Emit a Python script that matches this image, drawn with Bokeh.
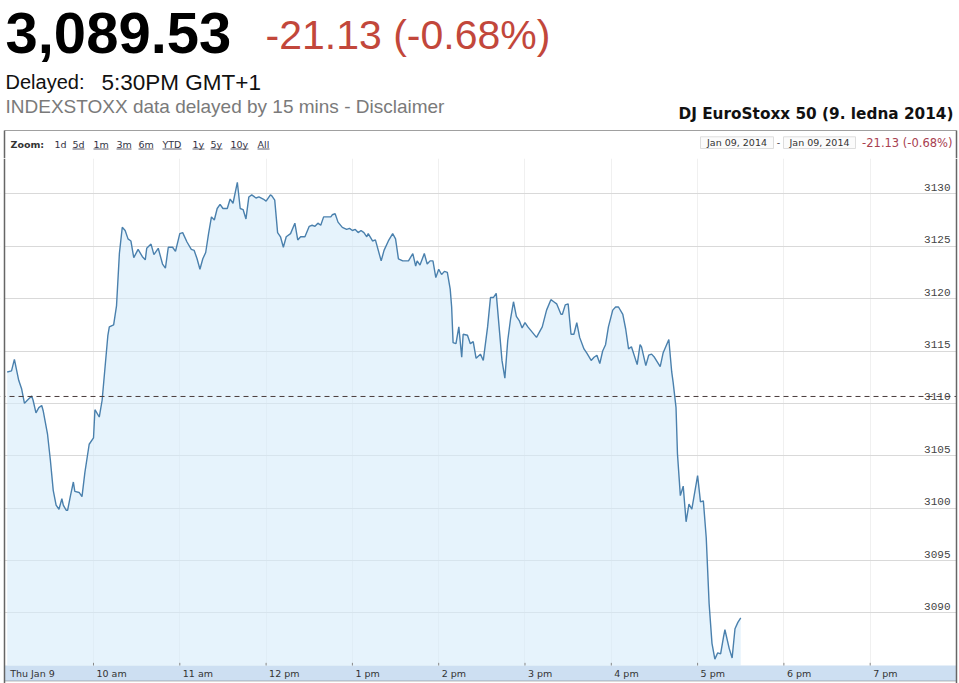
from bokeh.plotting import figure
from bokeh.models import Range1d, FixedTicker, Span, BoxAnnotation, ColumnDataSource, Grid
from bokeh.layouts import column
from bokeh.core.properties import value
from bokeh.embed import file_html
from bokeh.resources import INLINE

# ---------------- data ----------------
times = [
    "09:00", "09:03", "09:05", "09:08", "09:10", "09:12", "09:14", "09:17", "09:18", "09:20",
    "09:22", "09:24", "09:25", "09:28", "09:30", "09:32", "09:34", "09:36", "09:38", "09:39",
    "09:41", "09:42", "09:44", "09:46", "09:47", "09:50", "09:52", "09:54", "09:57", "10:00",
    "10:01", "10:04", "10:06", "10:10", "10:11", "10:14", "10:16", "10:18", "10:20", "10:22",
    "10:24", "10:26", "10:28", "10:31", "10:34", "10:36", "10:37", "10:40", "10:42", "10:45",
    "10:48", "10:50", "10:52", "10:55", "10:57", "11:00", "11:02", "11:05", "11:08", "11:10",
    "11:12", "11:14", "11:16", "11:18", "11:20", "11:22", "11:24", "11:26", "11:28", "11:30",
    "11:33", "11:35", "11:37", "11:40", "11:42", "11:44", "11:46", "11:48", "11:50", "11:53",
    "11:55", "11:58", "12:00", "12:03", "12:04", "12:06", "12:08", "12:10", "12:12", "12:14",
    "12:17", "12:20", "12:22", "12:24", "12:27", "12:30", "12:32", "12:34", "12:36", "12:38",
    "12:40", "12:42", "12:45", "12:46", "12:48", "12:50", "12:53", "12:56", "12:58", "13:00",
    "13:02", "13:04", "13:06", "13:08", "13:10", "13:11", "13:14", "13:16", "13:20", "13:22",
    "13:25", "13:28", "13:30", "13:32", "13:35", "13:37", "13:39", "13:42", "13:44", "13:45",
    "13:47", "13:50", "13:52", "13:54", "13:56", "13:58", "14:00", "14:02", "14:04", "14:06",
    "14:08", "14:09", "14:10", "14:12", "14:14", "14:16", "14:17", "14:20", "14:22", "14:24",
    "14:26", "14:29", "14:31", "14:34", "14:36", "14:38", "14:40", "14:42", "14:44", "14:46",
    "14:48", "14:50", "14:52", "14:54", "14:56", "14:58", "15:00", "15:02", "15:05", "15:08",
    "15:12", "15:15", "15:18", "15:20", "15:22", "15:25", "15:26", "15:28", "15:30", "15:32",
    "15:34", "15:36", "15:38", "15:41", "15:43", "15:46", "15:48", "15:50", "15:52", "15:54",
    "15:56", "15:58", "16:01", "16:03", "16:05", "16:08", "16:10", "16:12", "16:14", "16:18",
    "16:20", "16:21", "16:24", "16:26", "16:28", "16:30", "16:34", "16:36", "16:40", "16:42",
    "16:43", "16:45", "16:46", "16:48", "16:50", "16:52", "16:54", "16:56", "17:00", "17:02",
    "17:04", "17:06", "17:08", "17:10", "17:12", "17:14", "17:16", "17:18", "17:19", "17:22",
    "17:24", "17:26", "17:28", "17:30",
]
values = [
    3113.0, 3113.1, 3114.2, 3112.2, 3111.4, 3110.0, 3110.3, 3110.7, 3110.3, 3109.1,
    3109.6, 3109.8, 3109.3, 3107.1, 3104.6, 3101.7, 3100.3, 3099.9, 3100.9, 3100.3,
    3099.8, 3099.8, 3101.2, 3102.5, 3101.6, 3101.5, 3101.1, 3103.4, 3106.1, 3106.7,
    3109.4, 3108.7, 3110.3, 3116.5, 3117.3, 3117.5, 3119.3, 3124.3, 3126.8, 3126.5,
    3125.7, 3125.5, 3123.9, 3124.7, 3124.0, 3123.7, 3124.8, 3125.2, 3124.2, 3124.8,
    3123.3, 3122.9, 3124.9, 3124.9, 3124.5, 3126.2, 3126.3, 3125.4, 3124.7, 3124.6,
    3123.8, 3122.8, 3123.8, 3124.4, 3126.2, 3127.8, 3127.5, 3128.6, 3129.0, 3128.6,
    3128.6, 3129.5, 3129.1, 3131.1, 3128.6, 3128.5, 3127.6, 3129.7, 3129.9, 3129.6,
    3129.7, 3129.5, 3129.3, 3129.9, 3129.8, 3129.4, 3126.3, 3125.9, 3124.9, 3125.9,
    3126.2, 3127.2, 3125.6, 3125.9, 3125.9, 3126.9, 3127.0, 3126.9, 3127.2, 3127.0,
    3127.8, 3127.8, 3127.8, 3128.0, 3128.1, 3127.3, 3126.8, 3126.6, 3126.7, 3126.5,
    3126.6, 3126.3, 3126.5, 3126.3, 3125.9, 3126.2, 3125.5, 3125.6, 3123.6, 3124.6,
    3125.5, 3126.2, 3125.7, 3123.8, 3123.6, 3123.6, 3123.6, 3124.3, 3123.1, 3123.6,
    3123.2, 3124.3, 3123.3, 3123.6, 3123.6, 3122.0, 3122.8, 3122.3, 3122.6, 3122.5,
    3120.9, 3119.2, 3115.8, 3115.7, 3117.3, 3114.4, 3116.6, 3116.5, 3115.7, 3115.9,
    3114.3, 3114.7, 3114.1, 3117.3, 3120.1, 3120.1, 3120.5, 3117.3, 3114.1, 3112.4,
    3116.0, 3118.1, 3119.7, 3118.3, 3117.9, 3117.2, 3117.7, 3117.3, 3116.8, 3116.3,
    3117.3, 3118.9, 3119.9, 3119.7, 3119.5, 3118.5, 3118.5, 3119.4, 3119.5, 3116.6,
    3116.6, 3117.7, 3116.3, 3115.2, 3114.8, 3114.1, 3114.4, 3114.6, 3113.8, 3115.0,
    3115.6, 3117.3, 3118.9, 3119.2, 3119.2, 3118.5, 3117.1, 3115.2, 3115.4, 3113.7,
    3115.6, 3115.4, 3113.6, 3114.6, 3114.7, 3114.4, 3113.5, 3114.8, 3116.1, 3113.0,
    3112.0, 3109.6, 3105.2, 3101.2, 3102.1, 3098.7, 3100.4, 3099.9, 3103.1, 3100.6,
    3100.7, 3097.2, 3090.9, 3087.1, 3085.6, 3086.2, 3086.1, 3087.7, 3088.4, 3086.6,
    3085.7, 3088.5, 3089.1, 3089.53,
]
last_value = 3089.53
change = -21.13
change_pct = -0.68
prev_close = round(last_value - change, 2)

x_tick_hours = [9, 10, 11, 12, 13, 14, 15, 16, 17, 18, 19]
x_tick_labels = ["Thu Jan 9", "10 am", "11 am", "12 pm", "1 pm", "2 pm", "3 pm",
                 "4 pm", "5 pm", "6 pm", "7 pm"]
y_ticks = [3090, 3095, 3100, 3105, 3110, 3115, 3120, 3125, 3130]

zoom_buttons = ["1d", "5d", "1m", "3m", "6m", "YTD", "1y", "5y", "10y", "All"]
date_from = "Jan 09, 2014"
date_to = "Jan 09, 2014"
delayed_time = "5:30PM GMT+1"
source_note = "INDEXSTOXX data delayed by 15 mins - Disclaimer"
title_text = "DJ EuroStoxx 50 (9. ledna 2014)"

W = 959

# ---------------- header ----------------
H_H = 158
h = figure(width=W, height=H_H, x_range=Range1d(0, W), y_range=Range1d(H_H, 0),
           output_backend="svg", toolbar_location=None, min_border=0,
           x_axis_location=None, y_axis_location=None)
h.grid.visible = False
h.outline_line_color = None
h.background_fill_color = "white"
h.border_fill_color = "white"


def htext(x, y, s, size, color="#000000", font="Liberation Sans", style="normal",
          align="left", baseline="middle"):
    h.text(x=[x], y=[y], text=[s], text_font=value(font), text_font_size=size,
           text_font_style=style, text_color=color, text_align=align,
           text_baseline=baseline)


htext(5, 32, f"{last_value:,.2f}", "58px", "#000000", style="bold")
htext(265, 34, f"{change:.2f} ({change_pct:.2f}%)", "41px", "#c2473b")
htext(5, 81.5, "Delayed:", "20px", "#111111")
htext(101, 81.5, delayed_time, "22.5px", "#111111")
htext(5, 106, source_note, "19px", "#7a7a7a")
htext(953, 113, title_text, "15.3px", "#111111", font="DejaVu Sans", style="bold",
      align="right")

# chart box (top part)
h.segment(x0=[4], y0=[130], x1=[956], y1=[130], line_color="#a0a0a0", line_width=1)
h.segment(x0=[4, 956], y0=[130, 130], x1=[4, 956], y1=[158, 158],
          line_color="#666666", line_width=1.5)

# zoom row
htext(10, 143.5, "Zoom:", "9.5px", "#333333", font="DejaVu Sans", style="bold")
zoom_x = [54, 72, 93, 116, 138, 162, 192, 210, 230, 257]
zoom_w = [0, 12, 15, 15, 15, 19, 12, 12, 18, 12]
h.text(x=zoom_x, y=[143.5] * len(zoom_x), text=zoom_buttons,
       text_font=value("DejaVu Sans"), text_font_size="9.5px", text_color="#333344",
       text_align="left", text_baseline="middle")
ux0 = [x for x, w in zip(zoom_x, zoom_w) if w > 0]
ux1 = [x + w for x, w in zip(zoom_x, zoom_w) if w > 0]
h.segment(x0=ux0, y0=[148.5] * len(ux0), x1=ux1, y1=[148.5] * len(ux0),
          line_color="#333344", line_width=0.8)

# date range boxes
h.quad(left=[700, 783], right=[773, 855], top=[136.3, 136.3], bottom=[148, 148],
       fill_color="#fbfbfb", line_color="#dddddd", line_width=1)
htext(736.5, 142.3, date_from, "9.5px", "#333333", font="DejaVu Sans", align="center")
htext(778, 142.3, "-", "9.5px", "#333333", font="DejaVu Sans", align="center")
htext(819, 142.3, date_to, "9.5px", "#333333", font="DejaVu Sans", align="center")
htext(952, 142.3, f"{change:.2f} ({change_pct:.2f}%)", "11.5px", "#a8404f",
      font="DejaVu Sans", align="right")

# ---------------- chart ----------------
X_START, X_END = 8.92236, 20.0348      # canvas edges
Y_START, Y_END = 3083.27, 3133.37
X_LEFT, X_RIGHT = 8.9687, 20.0          # box borders
Y_BOTTOM = 3083.51
BAND_TOP = 3084.99

hours = [int(t[:2]) + int(t[3:]) / 60 for t in times]
src = ColumnDataSource(data=dict(hour=hours, value=values))

c = figure(width=W, height=525, x_range=Range1d(X_START, X_END),
           y_range=Range1d(Y_START, Y_END), output_backend="svg",
           toolbar_location=None, min_border=0,
           x_axis_location=None, y_axis_location=None)
c.grid.visible = False
c.outline_line_color = None
c.background_fill_color = "white"
c.border_fill_color = "white"

c.add_layout(Grid(dimension=0, ticker=FixedTicker(ticks=x_tick_hours[1:]),
                  grid_line_color="#f0f0f0", grid_line_width=1))
c.add_layout(Grid(dimension=1, ticker=FixedTicker(ticks=y_ticks),
                  grid_line_color="#d9d9d9", grid_line_width=1))

c.add_layout(BoxAnnotation(left=X_LEFT, right=X_RIGHT, bottom=Y_BOTTOM, top=BAND_TOP,
                           fill_color="#cddff2", fill_alpha=1.0, line_color=None,
                           level="underlay"))

c.varea(x="hour", y1=BAND_TOP, y2="value", source=src, fill_color="#d5ebfa",
        fill_alpha=0.6)
c.line(x="hour", y="value", source=src, line_color="#4a80ad", line_width=1.4)

c.add_layout(Span(location=prev_close, dimension="width", line_color="#4a3c3c",
                  line_dash="5 4", line_width=1))

# x tick marks and labels in the bottom band
c.segment(x0=x_tick_hours[1:], y0=[BAND_TOP] * 10, x1=x_tick_hours[1:],
          y1=[BAND_TOP + 0.25] * 10, line_color="#888888", line_width=1)
c.text(x=x_tick_hours, y=[Y_BOTTOM] * len(x_tick_hours), text=x_tick_labels,
       x_offset=3, y_offset=-7.5, text_align="left", text_baseline="middle",
       text_font=value("DejaVu Sans"), text_font_size="9.5px", text_color="#333333")

# y labels, inside on the right, sitting on the grid lines
c.text(x=[X_RIGHT] * len(y_ticks), y=y_ticks, text=[str(t) for t in y_ticks],
       x_offset=-6, y_offset=-6.5, text_align="right", text_baseline="middle",
       text_font=value("Liberation Mono"), text_font_size="11px",
       text_color="#444444")

# white outside the box
c.add_layout(BoxAnnotation(right=X_LEFT, fill_color="white", fill_alpha=1.0,
                           line_color=None))
c.add_layout(BoxAnnotation(left=X_RIGHT, fill_color="white", fill_alpha=1.0,
                           line_color=None))
c.add_layout(BoxAnnotation(top=Y_BOTTOM, fill_color="white", fill_alpha=1.0,
                           line_color=None))

# box borders
for loc, dim in [(X_LEFT, "height"), (X_RIGHT, "height")]:
    c.add_layout(Span(location=loc, dimension=dim, line_color="#666666",
                      line_width=1.5))
c.add_layout(BoxAnnotation(left=X_LEFT, right=X_RIGHT, top=Y_BOTTOM, bottom=Y_BOTTOM,
                           fill_alpha=0, line_color="#666666", line_width=1.5))

layout = column(h, c, spacing=0)
open("out.html", "w").write(file_html(layout, INLINE))
